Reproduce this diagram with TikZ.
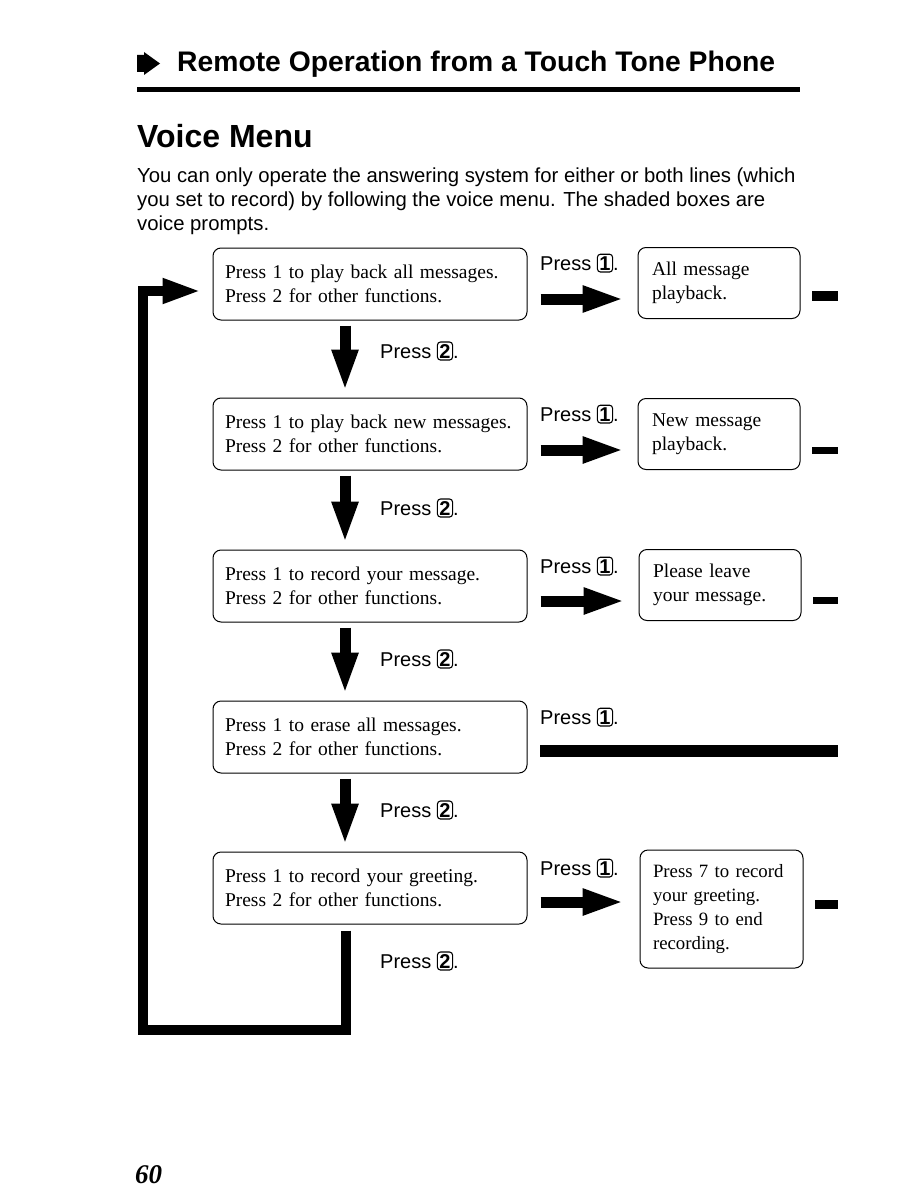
\documentclass[tikz,border=0pt]{standalone}
\usepackage{fontspec}
\setmainfont{Liberation Serif}
\setsansfont{Liberation Sans}
\usetikzlibrary{arrows.meta}
\newcommand\keycap[1]{\tikz[baseline=(kc.base)]\node[draw,line width=1.1pt,rounded corners=3pt,inner xsep=2pt,inner ysep=2pt,font=\sffamily\bfseries](kc){#1};}
\begin{document}
\begin{tikzpicture}[x=1pt,y=-1pt,
  mainbox/.style={draw,line width=1pt,rounded corners=8pt,minimum width=314pt,minimum height=72pt,text width=290pt,inner xsep=12pt,align=left,font=\fontsize{19.5}{24.5}\selectfont},
  rightbox/.style={draw,line width=1pt,rounded corners=8pt,minimum width=162pt,minimum height=71pt,text width=134pt,inner xsep=14pt,align=left,font=\fontsize{19.5}{24.5}\selectfont},
  presslbl/.style={anchor=base west,inner sep=0pt,font=\sffamily\fontsize{20}{23}\selectfont},
  bodytxt/.style={anchor=base west,inner sep=0pt,font=\sffamily\fontsize{20.3}{24}\selectfont},
  flowarrow/.style={line width=11pt,-{Triangle[length=42pt,width=24pt]}},
  loopline/.style={line width=10pt,line join=miter,-{Triangle[length=39pt,width=23pt]}},
  block/.style={fill=black}
]
\useasboundingbox (0,0) rectangle (918,1188);
% header
\fill (137,55) -- (144,55) -- (144,52) -- (160,63.5) -- (144,75) -- (144,72) -- (137,72) -- cycle;
\node[anchor=base west,inner sep=0pt,font=\sffamily\bfseries\fontsize{28.3}{32}\selectfont] (title) at (177,72) {Remote Operation from a Touch Tone Phone};
\fill (137,87) rectangle (800,92);
\node[anchor=base west,inner sep=0pt,font=\sffamily\bfseries\fontsize{32}{36}\selectfont] (vm) at (137,147) {Voice Menu};
\node[bodytxt] (par1) at (137,182) {You can only operate the answering system for either or both lines (which};
\node[bodytxt] (par2) at (137,206) {you set to record) by following the voice menu. The shaded boxes are};
\node[bodytxt] (par3) at (137,230) {voice prompts.};
% main boxes
\node[mainbox] (b1) at (370,284) {Press 1 to play back all messages.\\Press 2 for other functions.};
\node[mainbox] (b2) at (370,434) {Press 1 to play back new messages.\\Press 2 for other functions.};
\node[mainbox] (b3) at (370,586) {Press 1 to record your message.\\Press 2 for other functions.};
\node[mainbox] (b4) at (370,737) {Press 1 to erase all messages.\\Press 2 for other functions.};
\node[mainbox] (b5) at (370,888) {Press 1 to record your greeting.\\Press 2 for other functions.};
% right boxes
\node[rightbox] (r1) at (719,283) {All message\\playback.};
\node[rightbox] (r2) at (719,434) {New message\\playback.};
\node[rightbox] (r3) at (720,585) {Please leave\\your message.};
\node[rightbox,minimum width=163pt,minimum height=118pt,text width=137pt,inner xsep=13pt,font=\fontsize{18.8}{24}\selectfont] (r5) at (721.5,909) {Press 7 to record\\your greeting.\\Press 9 to end\\recording.};
% press 1 labels
\node[presslbl] (p1a) at (540,270) {Press \keycap{1}.};
\node[presslbl] (p1b) at (540,421) {Press \keycap{1}.};
\node[presslbl] (p1c) at (540,573) {Press \keycap{1}.};
\node[presslbl] (p1d) at (540,724) {Press \keycap{1}.};
\node[presslbl] (p1e) at (540,875) {Press \keycap{1}.};
% press 2 labels
\node[presslbl] (p2a) at (380,358) {Press \keycap{2}.};
\node[presslbl] (p2b) at (380,515) {Press \keycap{2}.};
\node[presslbl] (p2c) at (380,666) {Press \keycap{2}.};
\node[presslbl] (p2d) at (380,817) {Press \keycap{2}.};
\node[presslbl] (p2e) at (380,968) {Press \keycap{2}.};
% right arrows
\draw[flowarrow] ([shift={(13,15)}]b1.east) -- ([shift={(-13,16)}]r1.west);
\draw[flowarrow] ([shift={(13,16)}]b2.east) -- ([shift={(-13,16)}]r2.west);
\draw[flowarrow] ([shift={(13,15)}]b3.east) -- ([shift={(-13,16)}]r3.west);
\draw[flowarrow] ([shift={(13,14)}]b5.east) -- ([shift={(-15,-7)}]r5.west);
% down arrows
\draw[flowarrow] ([shift={(-25,5)}]b1.south) -- ([shift={(-25,-6)}]b2.north);
\draw[flowarrow] ([shift={(-25,5)}]b2.south) -- ([shift={(-25,-6)}]b3.north);
\draw[flowarrow] ([shift={(-25,5)}]b3.south) -- ([shift={(-25,-6)}]b4.north);
\draw[flowarrow] ([shift={(-25,5)}]b4.south) -- ([shift={(-25,-6)}]b5.north);
% loop back
\draw[loopline] ([shift={(-24,6)}]b5.south) |- (143,1030) |- ([shift={(-11,7)}]b1.west);
% shaded remnants
\fill[block] (812,291) rectangle (838,301);
\fill[block] (812,447) rectangle (838,454);
\fill[block] (813,597) rectangle (838,604);
\fill[block] (540,745) rectangle (838,757);
\fill[block] (815,900) rectangle (838,909);
% page number
\node[anchor=base west,inner sep=0pt,font=\bfseries\itshape\fontsize{27}{30}\selectfont] (pg) at (135,1183) {60};
\end{tikzpicture}
\end{document}
